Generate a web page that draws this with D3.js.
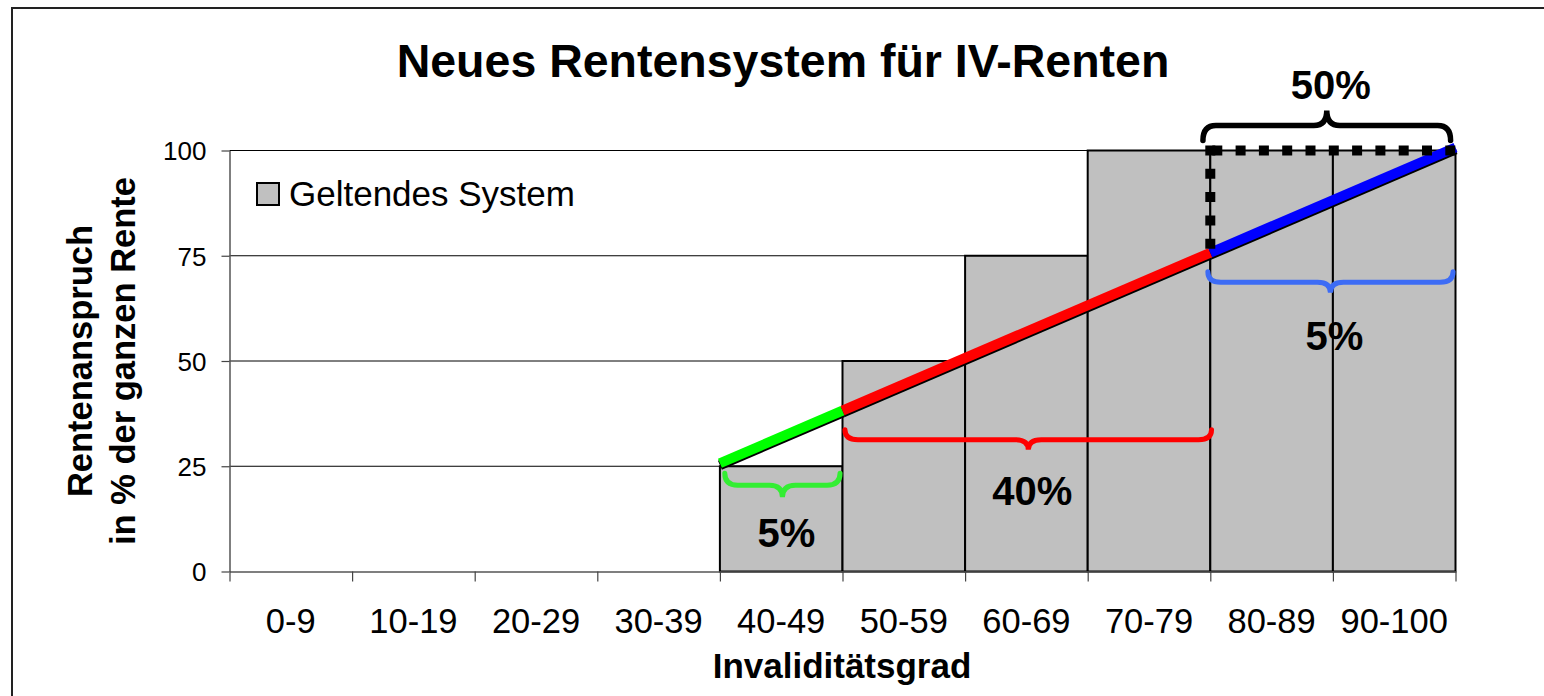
<!DOCTYPE html>
<html><head><meta charset="utf-8">
<script src="https://cdn.jsdelivr.net/npm/d3@7"></script>
<style>
body{margin:0;background:#fff}
svg{display:block}
text{font-family:"Liberation Sans",Arial,Helvetica,sans-serif;fill:#000}
</style>
</head><body>
<svg id="chart" width="1544" height="696"></svg>
<script>
// ---------- data ----------
const categories = ["0-9","10-19","20-29","30-39","40-49","50-59","60-69","70-79","80-89","90-100"];
const currentSystem = [0,0,0,0,25,50,75,100,100,100];
const yTicks = [0,25,50,75,100];
const gradeTicks = [0,10,20,30,40,50,60,70,80,90,100];
const newGrades = [40,50,80,100];
const newValues = [25,37.5,75,100];
const segmentColors = ["#00ff00","#ff0000","#0000ff"];
const braceFrom = [40.4,50.2,79.8,79.4];
const braceTo   = [49.8,80.1,99.8,99.6];
const braceAnchor = [25,37.5,75,100];
const braceLabels = ["5%","40%","5%","50%"];
const braceColors = ["#33ee33","#ff0000","#3d6cf5","#000000"];
const title = "Neues Rentensystem für IV-Renten";
const legendLabel = "Geltendes System";
const xTitle = "Invaliditätsgrad";
const yTitle = ["Rentenanspruch","in % der ganzen Rente"];

// ---------- layout ----------
const L = 229.5, R = 1455.5, T = 150.5, B = 571.5;
const svg = d3.select("#chart");
const x = d3.scaleBand().domain(categories).range([L,R]).padding(0);
const xg = d3.scaleLinear().domain([0,100]).range([L,R]);
const y = d3.scaleLinear().domain([0,100]).range([B,T]);

// outer frame
svg.append("rect").attr("x",12).attr("y",8).attr("width",1600).attr("height",800)
  .attr("fill","none").attr("stroke","#222").attr("stroke-width",2);

// title
svg.append("text").attr("x",783).attr("y",77).attr("text-anchor","middle")
  .style("font-size","46.5px").style("font-weight","bold").text(title);

// gridlines
svg.append("g").selectAll("line").data(yTicks.filter(d=>d>0)).join("line")
  .attr("x1",L).attr("x2",R).attr("y1",d=>y(d)).attr("y2",d=>y(d))
  .attr("stroke","#000").attr("stroke-width",1);

// bars
svg.append("g").selectAll("rect").data(categories.map((c,i)=>({c,v:currentSystem[i]})).filter(d=>d.v>0))
  .join("rect")
  .attr("x",d=>x(d.c)).attr("y",d=>y(d.v))
  .attr("width",x.bandwidth()).attr("height",d=>y(0)-y(d.v))
  .attr("fill","#c0c0c0").attr("stroke","#000").attr("stroke-width",2);

// y axis
const yAxis = svg.append("g").attr("transform",`translate(${L},0)`)
  .call(d3.axisLeft(y).tickValues(yTicks).tickSize(8).tickSizeOuter(0).tickPadding(15));
yAxis.select(".domain").attr("stroke","#555").attr("stroke-width",1.5);
yAxis.selectAll(".tick line").attr("stroke","#444").attr("stroke-width",1.2);
yAxis.selectAll(".tick text").style("font-size","26px").attr("dy","0.36em")
  .style("font-family",'"Liberation Sans",Arial,sans-serif');

// x axis
const xAxis = svg.append("g").attr("transform",`translate(0,${B})`)
  .call(d3.axisBottom(xg).tickValues(gradeTicks).tickSize(10).tickSizeOuter(0).tickFormat(""));
xAxis.select(".domain").attr("stroke","#555").attr("stroke-width",1.5);
xAxis.selectAll(".tick line").attr("stroke","#444").attr("stroke-width",1.2);

svg.append("g").selectAll("text").data(categories).join("text")
  .attr("x",d=>x(d)+x.bandwidth()/2).attr("y",633).attr("text-anchor","middle")
  .style("font-size","34.5px").text(d=>d);

// axis titles
svg.append("text").attr("x",842).attr("y",678).attr("text-anchor","middle")
  .style("font-size","35px").style("font-weight","bold").text(xTitle);
svg.append("g").selectAll("text").data(yTitle).join("text")
  .attr("transform",(d,i)=>`translate(${92+i*43},361) rotate(-90)`)
  .attr("text-anchor","middle").style("font-size","34.5px").style("font-weight","bold").text(d=>d);

// legend
svg.append("rect").attr("x",257).attr("y",183).attr("width",22).attr("height",22)
  .attr("fill","#c0c0c0").attr("stroke","#000").attr("stroke-width",2);
svg.append("text").attr("x",289).attr("y",206).style("font-size","35px").text(legendLabel);

// new system line
const pts = newGrades.map((g,i)=>[xg(g),y(newValues[i])]);
const segs = d3.range(pts.length-1).map(i=>({a:pts[i],b:pts[i+1],color:segmentColors[i]}));
svg.append("g").attr("transform","translate(0,-1)").selectAll("line").data(segs).join("line")
  .attr("x1",d=>d.a[0]).attr("y1",d=>d.a[1]).attr("x2",d=>d.b[0]).attr("y2",d=>d.b[1])
  .attr("stroke","#000").attr("stroke-width",10);
svg.append("g").attr("transform","translate(0,-3)").selectAll("line").data(segs).join("line")
  .attr("x1",d=>d.a[0]).attr("y1",d=>d.a[1]).attr("x2",d=>d.b[0]).attr("y2",d=>d.b[1])
  .attr("stroke",d=>d.color).attr("stroke-width",10);

// dotted square line (80 -> 100 at full rente)
const corner = [xg(newGrades[2]), y(100)];
svg.append("path")
  .attr("d",`M${corner[0]},${corner[1]-5}L${corner[0]},${y(newValues[2])-6}`)
  .attr("fill","none").attr("stroke","#000").attr("stroke-width",10).attr("stroke-dasharray","10,13.3");
svg.append("path")
  .attr("d",`M${corner[0]+2},${corner[1]}L${xg(100)+5},${corner[1]}`)
  .attr("fill","none").attr("stroke","#000").attr("stroke-width",10).attr("stroke-dasharray","10,13.3");

// braces
function bracePath(x1,x2,y0,h,dir){
  const ym = y0+dir*h/2, yt = y0+dir*h, xc=(x1+x2)/2, rx=13;
  return `M${x1},${y0}Q${x1},${ym} ${x1+rx},${ym}L${xc-rx},${ym}Q${xc},${ym} ${xc},${yt}`+
         `Q${xc},${ym} ${xc+rx},${ym}L${x2-rx},${ym}Q${x2},${ym} ${x2},${y0}`;
}
const braceOffset = [7,16,16,-10];
const braceHeight = [24,20,21,30];
const braceDir = [1,1,1,-1];
const braceWidth = [5,5,5,5.5];
const labelGap = [50,55,57,-12];
braceLabels.forEach((lab,i)=>{
  const x1 = xg(braceFrom[i]), x2 = xg(braceTo[i]);
  const y0 = y(braceAnchor[i]) + braceOffset[i];
  svg.append("path").attr("d",bracePath(x1,x2,y0,braceHeight[i],braceDir[i]))
    .attr("fill","none").attr("stroke",braceColors[i]).attr("stroke-width",braceWidth[i])
    .attr("stroke-linecap","round");
  const tip = y0 + braceDir[i]*braceHeight[i];
  svg.append("text").attr("x",(x1+x2)/2+4).attr("y",tip+labelGap[i])
    .attr("text-anchor","middle").style("font-size","40px").style("font-weight","bold").text(lab);
});
</script>
</body></html>
